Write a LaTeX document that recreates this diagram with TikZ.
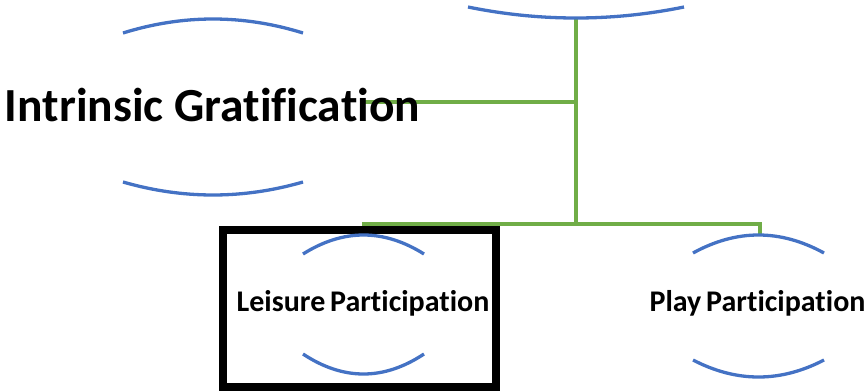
\documentclass[tikz,border=0pt]{standalone}
\usepackage{fontspec}
\setmainfont{Carlito}[Ligatures={NoCommon}]
\definecolor{arcblue}{HTML}{4472C4}
\definecolor{linkgreen}{HTML}{70AD47}
\begin{document}
\begin{tikzpicture}[x=1pt,y=-1pt,
  arc/.style={draw=arcblue,line width=3.3pt},
  link/.style={draw=linkgreen,line width=3.3pt},
  big/.style={font=\bfseries\fontsize{47.5}{52}\selectfont,inner sep=0pt},
  small/.style={font=\bfseries\fontsize{30}{34}\selectfont,inner sep=0pt}]
\useasboundingbox (0,0) rectangle (867,391);

% connector skeleton
\coordinate (root) at (576,18);
\coordinate (mid) at (576,102);
\coordinate (fork) at (576,224);
\coordinate (igend) at (362,102);
\coordinate (lpend) at (362,224);
\coordinate (ppend) at (760,235);
\draw[link] (root) -- (fork);
\draw[link] (mid) -- (igend);
\draw[link] (lpend) -| (ppend);

% top node (cut off)
\draw[arc] (468,7) .. controls (540,21.67) and (612,21.67) .. (684,7);

% Intrinsic Gratification
\draw[arc] (123,33) .. controls (183,14.33) and (243,14.33) .. (303,33);
\draw[arc] (123,182) .. controls (183,199.33) and (243,199.33) .. (303,182);
\node[big] (ig) at (212.5,105) {Intrinsic Gratification};

% Leisure Participation, highlighted
\draw[line width=8pt] (223,230) rectangle (496,387);
\draw[arc] (303,254) .. controls (343.3,228.67) and (383.7,228.67) .. (424,254);
\draw[arc] (303,354) .. controls (343.3,380.67) and (383.7,380.67) .. (424,354);
\node[small] (lp) at (363,303) {Leisure\kern-2pt{} Participation};

% Play Participation
\draw[arc] (693,253) .. controls (736.7,229) and (780.3,229) .. (824,253);
\draw[arc] (693,360) .. controls (736.7,382.67) and (780.3,382.67) .. (824,360);
\node[small] (pp) at (757.5,303) {Play\kern-2pt{} Participation};
\end{tikzpicture}
\end{document}
